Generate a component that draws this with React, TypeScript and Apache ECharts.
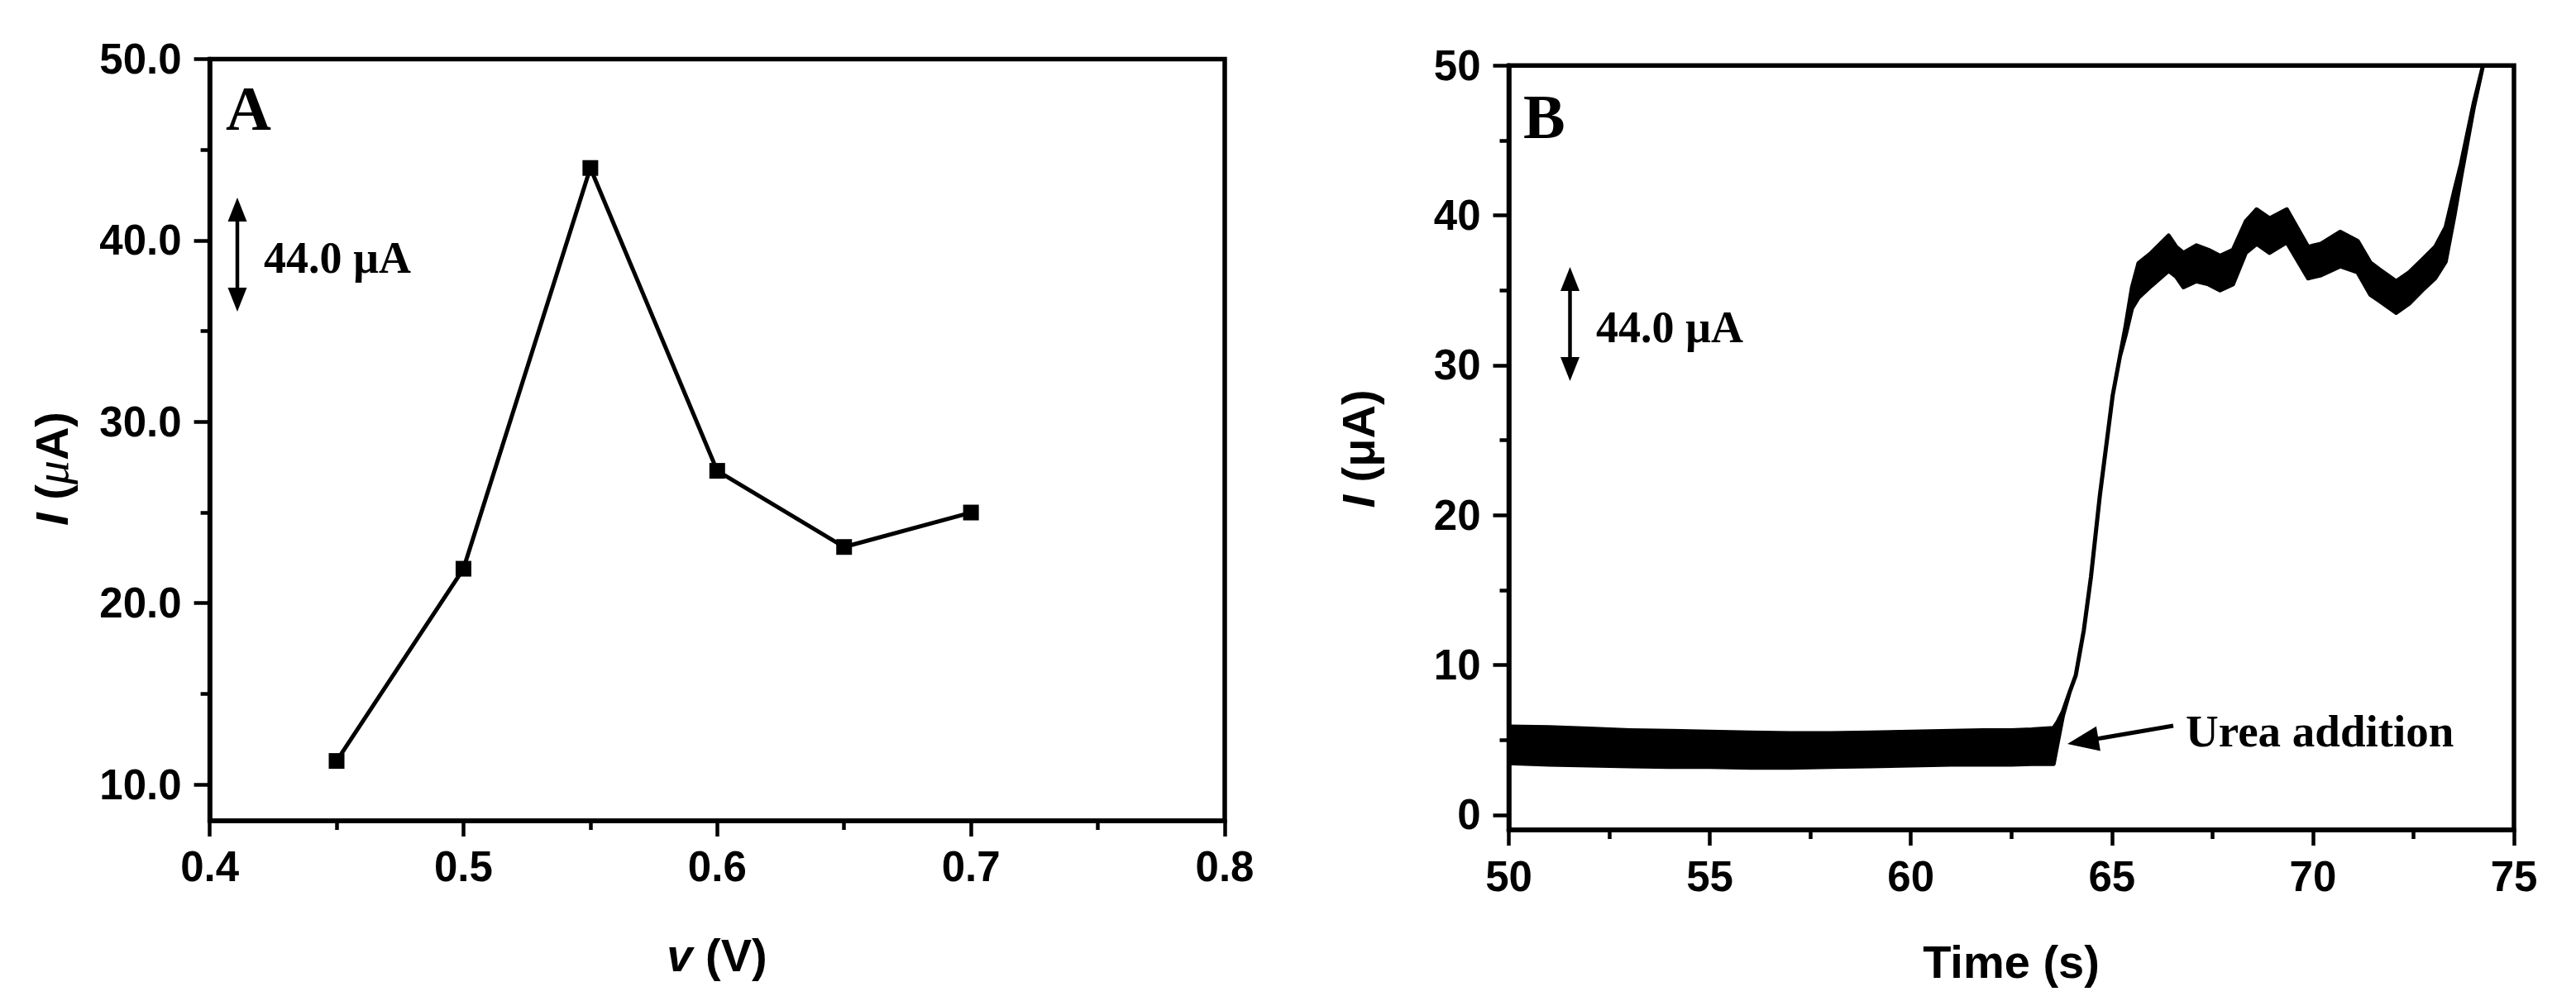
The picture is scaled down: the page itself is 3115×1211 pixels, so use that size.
import React, { useEffect, useRef } from "react";
import * as echarts from "echarts";

// ---------- Panel A data ----------
const voltageA = [0.45, 0.5, 0.55, 0.6, 0.65, 0.7];
const currentA = [11.3, 21.9, 44.0, 27.3, 23.1, 25.0];
const xTicksA = [0.4, 0.5, 0.6, 0.7, 0.8];
const xMinorA = [0.45, 0.55, 0.65, 0.75];
const yTicksA = [10, 20, 30, 40, 50];
const yMinorA = [15, 25, 35, 45];

// ---------- Panel B data (envelope of the noisy amperometric trace) ----------
const timeB = [50, 51, 52, 53, 54, 55, 56, 57, 58, 59, 60, 61, 61.8, 62.5, 63, 63.55, 63.65, 63.78, 63.95, 64.1, 64.3, 64.48, 64.7, 65.02, 65.2, 65.34, 65.5, 65.66, 65.98, 66.41, 66.6, 66.78, 67.1, 67.4, 67.69, 68.01, 68.33, 68.6, 68.92, 69.35, 69.88, 70.2, 70.68, 71.11, 71.43, 71.65, 72.07, 72.39, 72.72, 73.04, 73.3, 73.52, 73.68, 74.0, 74.23];
const lowerB = [3.45, 3.35, 3.3, 3.25, 3.2, 3.2, 3.15, 3.15, 3.2, 3.25, 3.3, 3.35, 3.35, 3.35, 3.4, 3.4, 4.8, 6.6, 8.2, 9.3, 12.3, 15.9, 21.3, 28.0, 30.6, 32.0, 33.8, 34.5, 35.3, 36.3, 35.9, 35.2, 35.6, 35.4, 35.0, 35.4, 37.5, 38.1, 37.5, 38.2, 35.8, 36.0, 36.6, 36.2, 34.7, 34.3, 33.5, 34.1, 35.0, 35.8, 36.9, 40.0, 42.5, 47.2, 50];
const upperB = [5.9, 5.85, 5.75, 5.65, 5.6, 5.55, 5.5, 5.45, 5.45, 5.5, 5.55, 5.6, 5.65, 5.65, 5.7, 5.8, 6.2, 6.9, 8.2, 9.3, 12.3, 15.9, 21.3, 28.0, 30.6, 32.6, 35.2, 36.8, 37.5, 38.65, 37.9, 37.5, 38.0, 37.7, 37.3, 37.7, 39.6, 40.4, 39.8, 40.4, 37.9, 38.1, 38.9, 38.3, 36.85, 36.4, 35.6, 36.2, 37.05, 37.9, 39.2, 41.7, 43.4, 47.5, 50];
const xTicksB = [50, 55, 60, 65, 70, 75];
const xMinorB = [52.5, 57.5, 62.5, 67.5, 72.5];
const yTicksB = [0, 10, 20, 30, 40, 50];
const yMinorB = [5, 15, 25, 35, 45];

const BLACK = "#000";
const SANS = "Liberation Sans";
const SERIF = "Liberation Serif";
const labelStyle = { fontFamily: SANS, fontWeight: "bold" as const, fontSize: 51, color: BLACK };

function majorAxis(gridIndex: number, min: number, max: number, ticks: number[], fmt: (v: number) => string, margin: number, position: string) {
  return {
    gridIndex, type: "value", min, max, position,
    axisLine: { show: true, onZero: false, lineStyle: { color: BLACK, width: 5.5 } },
    axisTick: { show: true, inside: false, customValues: ticks, length: 19, lineStyle: { color: BLACK, width: 4.5 } },
    axisLabel: { show: true, customValues: ticks, formatter: fmt, margin, ...labelStyle },
    splitLine: { show: false },
  };
}
function minorAxis(gridIndex: number, min: number, max: number, ticks: number[], position: string) {
  return {
    gridIndex, type: "value", min, max, position,
    axisLine: { show: false, onZero: false },
    axisTick: { show: true, inside: false, customValues: ticks, length: 11, lineStyle: { color: BLACK, width: 4.5 } },
    axisLabel: { show: false },
    splitLine: { show: false },
  };
}

function arrowDouble(x: number, yTop: number, yBot: number) {
  const hl = 29, hw = 11.5;
  return [
    { type: "line", shape: { x1: x, y1: yTop + hl - 2, x2: x, y2: yBot - hl + 2 }, style: { stroke: BLACK, lineWidth: 4.5 } },
    { type: "polygon", shape: { points: [[x, yTop], [x - hw, yTop + hl], [x + hw, yTop + hl]] }, style: { fill: BLACK } },
    { type: "polygon", shape: { points: [[x, yBot], [x - hw, yBot - hl], [x + hw, yBot - hl]] }, style: { fill: BLACK } },
  ];
}

const richName = {
  i: { fontFamily: SANS, fontWeight: "bold", fontStyle: "italic", fontSize: 56, fill: BLACK },
  n: { fontFamily: SANS, fontWeight: "bold", fontSize: 56, fill: BLACK },
  m: { fontFamily: SERIF, fontStyle: "italic", fontSize: 58, fill: BLACK },
};

const option = {
  animation: false,
  backgroundColor: "#fff",
  grid: [
    { left: 253.6, top: 71.6, width: 1227.4, height: 921.4, show: true, borderColor: BLACK, borderWidth: 5.5, backgroundColor: "transparent", containLabel: false, outerBoundsMode: "none" },
    { left: 1824.5, top: 79.2, width: 1215.5, height: 924.8, show: true, borderColor: BLACK, borderWidth: 5.5, backgroundColor: "transparent", containLabel: false, outerBoundsMode: "none" },
  ],
  xAxis: [
    majorAxis(0, 0.4, 0.8, xTicksA, (v: number) => v.toFixed(1), 30, "bottom"),
    minorAxis(0, 0.4, 0.8, xMinorA, "bottom"),
    majorAxis(1, 50, 75, xTicksB, (v: number) => String(v), 31, "bottom"),
    minorAxis(1, 50, 75, xMinorB, "bottom"),
  ],
  yAxis: [
    majorAxis(0, 8, 50, yTicksA, (v: number) => v.toFixed(1), 34, "left"),
    minorAxis(0, 8, 50, yMinorA, "left"),
    majorAxis(1, -1, 50, yTicksB, (v: number) => String(v), 34, "left"),
    minorAxis(1, -1, 50, yMinorB, "left"),
  ],
  series: [
    {
      type: "line",
      xAxisIndex: 0,
      yAxisIndex: 0,
      data: voltageA.map((v, i) => [v, currentA[i]]),
      symbol: "rect",
      symbolSize: 19,
      showSymbol: true,
      lineStyle: { color: BLACK, width: 5 },
      itemStyle: { color: BLACK },
      z: 3,
    },
    {
      type: "custom",
      xAxisIndex: 2,
      yAxisIndex: 2,
      clip: true,
      data: timeB.map((t, i) => [t, lowerB[i], upperB[i]]),
      encode: { x: 0, y: [1, 2] },
      renderItem: (params: any, api: any) => {
        if (params.dataIndex !== 0) return null;
        const pts: number[][] = [];
        for (let i = 0; i < timeB.length; i++) pts.push(api.coord([timeB[i], upperB[i]]));
        for (let i = timeB.length - 1; i >= 0; i--) pts.push(api.coord([timeB[i], lowerB[i]]));
        return {
          type: "polygon",
          shape: { points: pts },
          style: { fill: BLACK, stroke: BLACK, lineWidth: 5, lineJoin: "round" },
        };
      },
      z: 3,
    },
  ],
  graphic: [
    // panel letters
    { type: "text", x: 273, y: 131, style: { text: "A", font: `bold 76px "${SERIF}"`, fill: BLACK, verticalAlign: "middle", align: "left" } },
    { type: "text", x: 1842, y: 141, style: { text: "B", font: `bold 76px "${SERIF}"`, fill: BLACK, verticalAlign: "middle", align: "left" } },
    // scale bars
    ...arrowDouble(287, 239, 377),
    { type: "text", x: 319, y: 312, style: { text: "44.0 µA", font: `bold 54px "${SERIF}"`, fill: BLACK, verticalAlign: "middle", align: "left" } },
    ...arrowDouble(1898.5, 323, 461),
    { type: "text", x: 1930, y: 396, style: { text: "44.0 µA", font: `bold 54px "${SERIF}"`, fill: BLACK, verticalAlign: "middle", align: "left" } },
    // urea addition arrow
    { type: "line", shape: { x1: 2532, y1: 894.5, x2: 2628, y2: 878 }, style: { stroke: BLACK, lineWidth: 5 } },
    { type: "polygon", shape: { points: [[2500, 900], [2539.9, 908.4], [2534.9, 878.8]] }, style: { fill: BLACK } },
    { type: "text", x: 2643, y: 884, style: { text: "Urea addition", font: `bold 55px "${SERIF}"`, fill: BLACK, verticalAlign: "middle", align: "left" } },
    // axis names
    { type: "text", x: 867, y: 1155, style: { text: "{i|v}{n| (V)}", rich: richName, align: "center", verticalAlign: "middle" } },
    { type: "text", x: 2432, y: 1163, style: { text: "{n|Time (s)}", rich: richName, align: "center", verticalAlign: "middle" } },
    { type: "text", x: 62, y: 567, rotation: Math.PI / 2, style: { text: "{i|I}{n| (}{m|μ}{n|A)}", rich: richName, align: "center", verticalAlign: "middle" } },
    { type: "text", x: 1642, y: 543, rotation: Math.PI / 2, style: { text: "{i|I}{n| (μA)}", rich: richName, align: "center", verticalAlign: "middle" } },
  ],
};

export default function App() {
  const ref = useRef<HTMLDivElement>(null);
  useEffect(() => {
    document.body.style.margin = "0";
    const chart = echarts.init(ref.current as HTMLDivElement, null, { renderer: "svg" });
    chart.setOption(option as any);
    return () => chart.dispose();
  }, []);
  return <div ref={ref} style={{ width: 3115, height: 1211 }} />;
}
